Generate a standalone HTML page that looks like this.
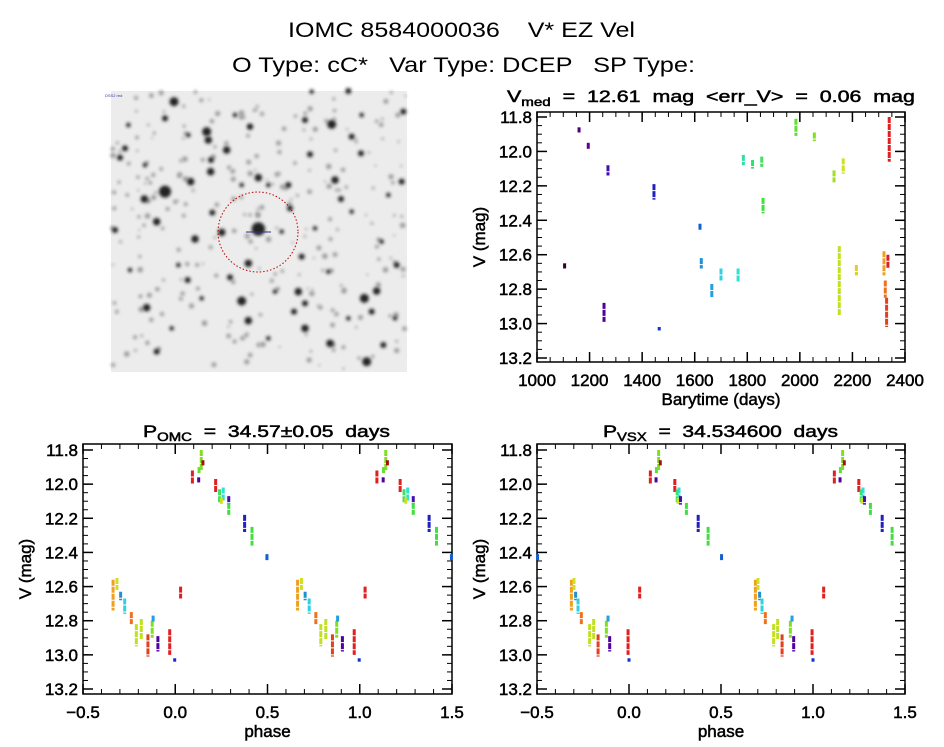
<!DOCTYPE html>
<html><head><meta charset="utf-8">
<style>
html,body{margin:0;padding:0;background:#fff;}
svg{display:block;font-family:"Liberation Sans",sans-serif;}
text{white-space:pre;}
.t{font-size:17px;fill:#000;stroke:#000;stroke-width:0.5;}
</style></head>
<body>
<svg id="fig" width="944" height="747" viewBox="0 0 944 747" xmlns="http://www.w3.org/2000/svg">
<text x="288" y="37" font-size="21" textLength="347" lengthAdjust="spacingAndGlyphs">IOMC 8584000036    V* EZ Vel</text>
<text x="232" y="72" font-size="21" textLength="463" lengthAdjust="spacingAndGlyphs">O Type: cC*   Var Type: DCEP   SP Type:</text>
<g id="img"></g>
<g id="p1"></g>
<g id="p2"></g>
<g id="p3"></g>
</svg>
<script>
// ---- time series data: barytime, mag top, mag bottom, color
const times = [1105,1160,1195,1255,1270,1445,1465,1620,1625,1665,1700,1765,1785,1820,1855,1860,1985,2055,2130,2150,2165,2215,2320,2325,2330,2335,2340];
const magTop = [12.65,11.86,11.95,12.88,12.08,12.19,13.02,12.42,12.62,12.77,12.68,12.68,12.02,12.05,12.03,12.27,11.81,11.89,12.11,12.55,12.04,12.66,12.58,12.75,12.85,12.60,11.80];
const magBot = [12.68,11.89,11.99,12.99,12.14,12.28,13.04,12.46,12.68,12.85,12.75,12.76,12.08,12.10,12.09,12.36,11.91,11.94,12.18,12.95,12.13,12.72,12.72,12.85,13.02,12.68,12.06];
const tColors = ['#300030','#500070','#600090','#5000a0','#4010b0','#2020c0','#1030d0','#1060d0','#2090d0','#20a0e0','#30d0e0','#30e0d0','#30e0a0','#30e070','#40e060','#40e040','#60e030','#80e020','#a0e020','#c0e020','#d0e020','#e0d020','#f0a020','#f07020','#e04020','#e02020','#e02020'];
const timeTicks = [1000,1200,1400,1600,1800,2000,2200,2400];
const magTicks = [11.8,12.0,12.2,12.4,12.6,12.8,13.0,13.2];
const phaseTicks = [-0.5,0.0,0.5,1.0,1.5];
// ---- phase-folded data (P_OMC)
const phOmc = [0.093,0.127,0.129,0.141,0.15,0.219,0.24,0.26,0.25,0.29,0.29,0.376,0.416,0.497,0.029,-0.337,-0.316,-0.296,-0.274,-0.238,-0.211,-0.184,-0.148,-0.125,-0.12,-0.094,-0.03,-0.003];
// ---- phase-folded data (P_VSX)
const phVsx = [0.116,0.147,0.149,0.161,0.17,0.249,0.262,0.272,0.267,0.28,0.312,0.376,0.43,0.503,0.058,-0.313,-0.299,-0.29,-0.277,-0.259,-0.214,-0.192,-0.168,-0.123,-0.114,-0.105,-0.005,0.0];
const phTop = [11.92,11.96,11.90,11.80,11.86,11.97,12.03,12.02,12.08,12.07,12.11,12.18,12.25,12.41,12.60,12.56,12.55,12.63,12.67,12.75,12.82,12.79,12.88,12.80,12.77,12.89,12.85,13.02];
const phBot = [12.00,11.99,11.94,11.92,11.89,12.05,12.11,12.10,12.12,12.12,12.18,12.28,12.36,12.45,12.67,12.74,12.62,12.68,12.76,12.82,12.95,12.91,13.01,12.90,12.81,12.98,13.00,13.04];
const phColors = ['#e02020','#5000a0','#60e030','#80e020','#a01010','#e02020','#40e060','#30e0d0','#d0e020','#4010b0','#40e040','#2020c0','#40e040','#1060d0','#e02020','#f0a020','#d0e020','#2090d0','#30d0e0','#f07020','#c0e020','#c0e020','#e04020','#80e020','#20a0e0','#5000a0','#e02020','#1030d0'];

const NS='http://www.w3.org/2000/svg';
function mk(tag,attrs,parent){const e=document.createElementNS(NS,tag);for(const k in attrs)e.setAttribute(k,attrs[k]);parent.appendChild(e);return e;}

function axes(g,L,R,T,B,xs,ys,xTicks,xMinor,xFmt,yMinor,xTitle,name){
  mk('rect',{x:L,y:T,width:R-L,height:B-T,fill:'none',stroke:'#000','stroke-width':1.5},g);
  magTicks.forEach(v=>{
    const y=ys(v);
    mk('line',{x1:L,x2:L+10,y1:y,y2:y,stroke:'#000','stroke-width':1.5},g);
    mk('line',{x1:R,x2:R-10,y1:y,y2:y,stroke:'#000','stroke-width':1.5},g);
    const t=mk('text',{x:L-5,y:y+6,'text-anchor':'end',class:'t'},g);
    t.textContent=v.toFixed(1);
    
    
  });
  for(let v=11.8;v<=13.2001;v+=0.05){const y=ys(v);
    mk('line',{x1:L,x2:L+5,y1:y,y2:y,stroke:'#000','stroke-width':1},g);
    mk('line',{x1:R,x2:R-5,y1:y,y2:y,stroke:'#000','stroke-width':1},g);}
  xTicks.forEach(v=>{
    const x=xs(v);
    mk('line',{x1:x,x2:x,y1:B,y2:B-10,stroke:'#000','stroke-width':1.5},g);
    mk('line',{x1:x,x2:x,y1:T,y2:T+10,stroke:'#000','stroke-width':1.5},g);
    const t=mk('text',{x:x,y:B+24,'text-anchor':'middle',class:'t'},g);
    t.textContent=xFmt(v);
    
    
  });
  for(let v=xTicks[0];v<=xTicks[xTicks.length-1]+1e-9;v+=xMinor){const x=xs(v);
    mk('line',{x1:x,x2:x,y1:B,y2:B-5,stroke:'#000','stroke-width':1},g);
    mk('line',{x1:x,x2:x,y1:T,y2:T+5,stroke:'#000','stroke-width':1},g);}
  const xt=mk('text',{x:(L+R)/2,y:B+43,'text-anchor':'middle',class:'t'},g);
  xt.textContent=xTitle;
  
  
  const yt=mk('text',{x:0,y:0,'text-anchor':'middle',class:'t',transform:`translate(${L-52},${(T+B)/2}) rotate(-90)`},g);
  yt.textContent='V (mag)';
  
  
}
function seg(g,x,y1,y2,c,name){
  const l=mk('line',{x1:x,x2:x,y1:y1,y2:Math.max(y2,y1+2),stroke:c,'stroke-width':3,'stroke-dasharray':'6 1'},g);
  
  
}
function lin(d0,d1,r0,r1){return v=>r0+(v-d0)*(r1-r0)/(d1-d0);}

// ---- Panel 1: light curve
(function(){
  const g=document.getElementById('p1');
  const L=537,R=905,T=112,B=362;
  const xs=lin(1000,2400,L,R), ys=lin(11.8,13.2,117,358);
  axes(g,L,R,T,B,xs,ys,timeTicks,50,v=>String(v),0,'Barytime (days)','light-curve');
  const tt=mk('text',{x:507,y:102,class:'t','font-size':20,textLength:408,lengthAdjust:'spacingAndGlyphs'},g);
  tt.innerHTML='V<tspan font-size="12" dy="4">med</tspan><tspan dy="-4">  =  12.61  mag  &lt;err_V&gt;  =  0.06  mag</tspan>';
  
  
  times.forEach((t,i)=>seg(g,xs(t),ys(magTop[i]),ys(magBot[i]),tColors[i],'light-curve-point'));
})();

// ---- Phase panels
function phasePanel(id,L,R,ph,x0,w,sub,val,name){
  const g=document.getElementById(id);
  const T=444,B=694;
  const xs=lin(-0.5,1.5,L,R), ys=lin(11.8,13.2,450,689);
  axes(g,L,R,T,B,xs,ys,phaseTicks,0.1,v=>v<0?'\u2212'+Math.abs(v).toFixed(1):v.toFixed(1),0,'phase',name);
  const tt=mk('text',{x:x0,y:437,class:'t','font-size':20,textLength:w,lengthAdjust:'spacingAndGlyphs'},g);
  tt.innerHTML='P<tspan font-size="12" dy="4">'+sub+'</tspan><tspan dy="-4">  =  '+val+'</tspan>';
  
  
  ph.forEach((p,i)=>{
    [-1,0,1].forEach(k=>{
      const q=p+k;
      if(q<-0.5||q>1.5)return;
      seg(g,xs(q),ys(phTop[i]),ys(phBot[i]),phColors[i],name+'-point');
    });
  });
}
phasePanel('p2',83,452,phOmc,143,247,'OMC','34.57\u00b10.05  days','phase-omc');
phasePanel('p3',537,905,phVsx,603,235,'VSX','34.534600  days','phase-vsx');

// ---- sky image (decorative)
(function(){
  const g=document.getElementById('img');
  const defs=mk('defs',{},g);
  const f=mk('filter',{id:'bl',x:'-1',y:'-1',width:'3',height:'3'},defs);
  mk('feGaussianBlur',{stdDeviation:'1.6'},f);
  mk('rect',{x:111,y:91,width:296,height:281,fill:'#ececec'},g);
  const stars=[[237,50,6],[710,118,6],[335,140,6],[340,165,5],[395,195,5],[210,320,8],[148,342,5],[347,260,5],[348,225,4],[490,278,5],[287,290,5],[580,300,4],[720,285,5],[738,342,4],[185,410,5],[300,462,5],[380,442,5],[490,432,9],[460,535,5],[440,648,6],[460,707,5],[610,620,5],[630,730,5],[808,640,6],[845,618,5],[830,680,4],[705,775,5],[815,830,6],[155,668,5],[185,800,4],[645,208,4],[798,205,4],[770,155,4],[920,290,4],[925,80,4],[630,105,4],[90,190,4],[75,218,4],[60,435,4],[620,515,4],[210,100,4],[585,370,4],[760,18,4],[465,125,4],[905,540,4],[352,383,4],[278,585,4],[405,577,4],[597,680,4],[865,780,4],[630,655,4],[105,555,3],[250,540,3],[560,440,3],[660,430,3],[770,380,3],[860,470,3],[880,330,3],[520,300,3],[440,300,3],[280,150,3],[150,240,3],[700,560,3],[760,700,3],[540,620,3],[320,640,3],[230,730,3],[520,760,3],[900,700,3],[650,20,3],[420,90,3],[100,120,3],[800,90,3]];
  let s=7;function rnd(){s=(s*9301+49297)%233280;return s/233280;}
  for(let i=0;i<260;i++){mk('circle',{cx:112+rnd()*294,cy:92+rnd()*279,r:1+rnd()*1.8,fill:'#999',filter:'url(#bl)'},g);}
  stars.forEach(st=>{mk('circle',{cx:95+st[0]/3,cy:85+st[1]/3,r:st[2]*0.75,fill:'#222',filter:'url(#bl)'},g);});
  mk('circle',{cx:258,cy:232,r:40,fill:'none',stroke:'#b00','stroke-width':1,'stroke-dasharray':'1.5 2'},g);
  mk('line',{x1:246,x2:271,y1:232,y2:232,stroke:'#303080','stroke-width':1},g);
  mk('text',{x:105,y:97,'font-size':4,fill:'#33a'},g).textContent='DSS2 red';
})();
</script>
</body></html>
